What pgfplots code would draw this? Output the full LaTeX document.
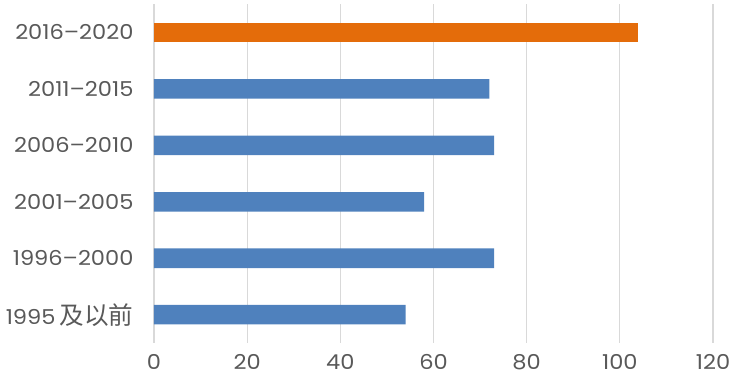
\documentclass[border=0pt]{standalone}
\usepackage{fontspec}
\setmainfont{Poppins}[FakeStretch=1.1]
\newfontfamily\cjk{Noto Sans CJK SC}[Scale=1.2]
\usepackage{pgfplots}
\pgfplotsset{compat=1.18}
\definecolor{barblue}{HTML}{4F81BD}
\definecolor{barorange}{HTML}{E46C0A}
\definecolor{gridgray}{HTML}{D9D9D9}
\definecolor{txtgray}{HTML}{595959}
\begin{document}
\begin{tikzpicture}[x=1pt,y=1pt]
\useasboundingbox (-154,-42) rectangle (595,343);
\begin{axis}[
  scale only axis,
  width=559pt, height=339pt,
  at={(0,0)}, anchor=south west,
  xmin=0, xmax=120,
  ymin=-0.5, ymax=5.5,
  xtick={0,20,...,120},
  ytick={0,1,2,3,4,5},
  yticklabels={1995{\cjk\,及以前},1996--2000,2001--2005,2006--2010,2011--2015,2016--2020},
  xbar, bar width=19.5pt,
  axis line style={draw=none},
  major tick length=0pt,
  xmajorgrids, grid style={gridgray, line width=1.1pt},
  ymajorgrids=false,
  tick label style={font=\fontsize{20.5}{23}\selectfont, text=txtgray},
  /pgf/number format/assume math mode=true,
  xticklabel style={yshift=-8pt},
  yticklabel style={xshift=-17pt},
  clip=false,
]
\addplot[fill=barblue, draw=none, bar shift=0pt] coordinates {(54,0) (73,1) (58,2) (73,3) (72,4)};
\addplot[fill=barorange, draw=none, bar shift=0pt] coordinates {(104,5)};
\end{axis}
\end{tikzpicture}
\end{document}
